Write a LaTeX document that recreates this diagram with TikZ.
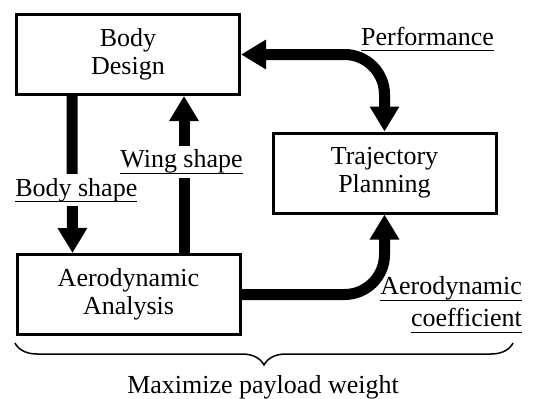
\documentclass[tikz,border=0pt]{standalone}
\usepackage{fontspec}
\setmainfont{Liberation Serif}
\usetikzlibrary{arrows.meta,decorations.pathreplacing}

\newcommand{\ulabel}[1]{\setbox0=\hbox{#1}\rlap{\vrule height -5pt depth 6.2pt width \wd0}\box0}

\tikzset{
	block/.style={draw, line width=3pt, minimum width=223pt, minimum height=80pt, align=center, inner sep=0pt},
	flow/.style={line width=11pt, -{Triangle[width=28pt,length=25pt]}},
	tag/.style={fill=white, inner xsep=1pt, inner ysep=4pt}
}

\begin{document}
\begin{tikzpicture}[x=1pt, y=-1pt]
				\fontsize{26}{28}\selectfont
				\useasboundingbox (0,0) rectangle (533,399);
				\node[block] (body) at (128,54.5) {Body\\Design};
				\node[block] (traj) at (384.5,173) {Trajectory\\Planning};
				\node[block] (aero) at (128.5,294.5) {Aerodynamic\\Analysis};

				\draw[flow] ([xshift=-56pt]body.south) -- ([xshift=-56pt]aero.north)
					node[tag, pos=0.6, xshift=4pt] (bshape) {\ulabel{Body shape}};
				\draw[flow] ([xshift=55.5pt]aero.north) -- ([xshift=56pt]body.south)
					node[tag, pos=0.58, xshift=-2.5pt] (wshape) {\ulabel{Wing shape}};
				\draw[flow, {Triangle[width=28pt,length=25pt]}-{Triangle[width=28pt,length=25pt]}, rounded corners=40pt]
					(body.east) -| (traj.north);
				\draw[flow, rounded corners=40pt] (aero.east) -| (traj.south);

				\node[inner sep=0pt] (perf) at (427.5,39) {\ulabel{Performance}};
				\node[anchor=east, align=right, inner sep=0pt] (coef) at (522,305)
					{\ulabel{Aerodynamic}\\[4pt]\ulabel{coefficient}};

				% brace under the loop
				\coordinate (bl) at (15,343);
				\coordinate (br) at (513,343);
				\draw[line width=1.5pt, decorate, decoration={brace, mirror, amplitude=22pt}] (bl) -- (br);
				\node[inner sep=0pt] (goal) at (263,387) {Maximize payload weight};
			\end{tikzpicture}
\end{document}
